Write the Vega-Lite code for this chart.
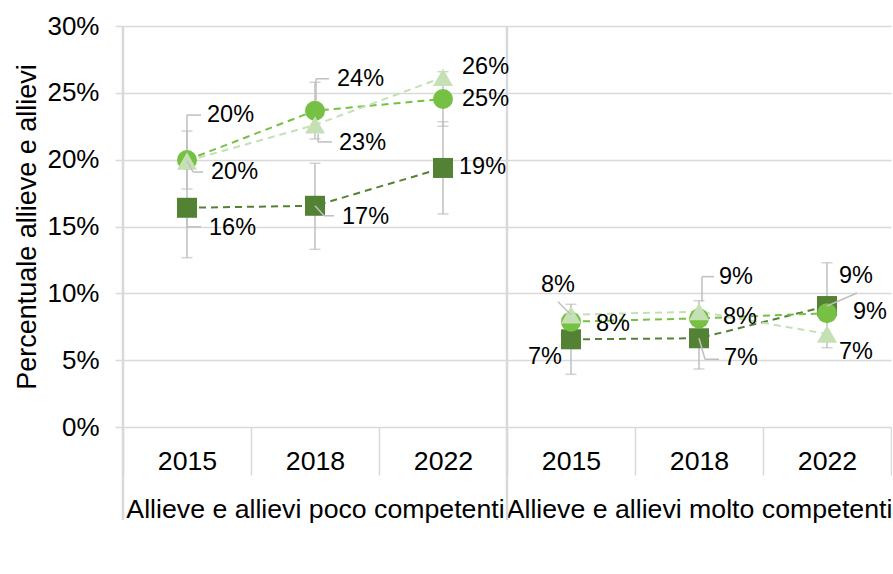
{
  "$schema": "https://vega.github.io/schema/vega-lite/v6.json",
  "width": 768,
  "height": 401,
  "padding": {"left": 13, "top": 13, "right": 0, "bottom": 0},
  "background": "white",
  "config": {"font": "Liberation Sans", "view": {"stroke": null}},
  "params": [
    {"name": "K", "value": ["Ticinop2015", "Ticinop2018", "Ticinop2022", "Ticinom2015", "Ticinom2018", "Ticinom2022", "Svizzerap2015", "Svizzerap2018", "Svizzerap2022", "Svizzeram2015", "Svizzeram2018", "Svizzeram2022", "Media OCSEp2015", "Media OCSEp2018", "Media OCSEp2022", "Media OCSEm2015", "Media OCSEm2018", "Media OCSEm2022"]}
  ],
  "data": {
    "values": [
      {"series": "Ticino", "g": "p", "key": "p2015", "v": 0.164, "lo": 0.1267, "hi": 0.2015, "label": "16%"},
      {"series": "Ticino", "g": "p", "key": "p2018", "v": 0.1655, "lo": 0.1329, "hi": 0.1973, "label": "17%"},
      {"series": "Ticino", "g": "p", "key": "p2022", "v": 0.1938, "lo": 0.1594, "hi": 0.2284, "label": "19%"},
      {"series": "Ticino", "g": "m", "key": "m2015", "v": 0.0656, "lo": 0.0394, "hi": 0.0918, "label": "7%"},
      {"series": "Ticino", "g": "m", "key": "m2018", "v": 0.0664, "lo": 0.0434, "hi": 0.0945, "label": "7%"},
      {"series": "Ticino", "g": "m", "key": "m2022", "v": 0.0905, "lo": 0.0593, "hi": 0.1229, "label": "9%"},
      {"series": "Svizzera", "g": "p", "key": "p2015", "v": 0.1997, "lo": 0.178, "hi": 0.2214, "label": "20%"},
      {"series": "Svizzera", "g": "p", "key": "p2018", "v": 0.2366, "lo": 0.2155, "hi": 0.2579, "label": "24%"},
      {"series": "Svizzera", "g": "p", "key": "p2022", "v": 0.2454, "lo": 0.225, "hi": 0.2658, "label": "25%"},
      {"series": "Svizzera", "g": "m", "key": "m2015", "v": 0.0788, "lo": null, "hi": null, "label": "8%"},
      {"series": "Svizzera", "g": "m", "key": "m2018", "v": 0.0813, "lo": null, "hi": null, "label": "8%"},
      {"series": "Svizzera", "g": "m", "key": "m2022", "v": 0.0851, "lo": null, "hi": null, "label": "9%"},
      {"series": "Media OCSE", "g": "p", "key": "p2015", "v": 0.199, "lo": null, "hi": null, "label": "20%"},
      {"series": "Media OCSE", "g": "p", "key": "p2018", "v": 0.226, "lo": null, "hi": null, "label": "23%"},
      {"series": "Media OCSE", "g": "p", "key": "p2022", "v": 0.2616, "lo": null, "hi": null, "label": "26%"},
      {"series": "Media OCSE", "g": "m", "key": "m2015", "v": 0.084, "lo": null, "hi": null, "label": "8%"},
      {"series": "Media OCSE", "g": "m", "key": "m2018", "v": 0.0863, "lo": null, "hi": null, "label": "9%"},
      {"series": "Media OCSE", "g": "m", "key": "m2022", "v": 0.0696, "lo": null, "hi": null, "label": "7%"}
    ]
  },
  "encoding": {
    "x": {"field": "key", "type": "nominal",
      "scale": {"domain": ["p2015", "p2018", "p2022", "m2015", "m2018", "m2022"], "paddingInner": 0, "paddingOuter": 0},
      "axis": {"title": null, "labelExpr": "!isValid(datum.value) ? '' : datum.value == 'p2018' ? ['2018', 'Allieve e allievi poco competenti'] : datum.value == 'm2018' ? ['2018', 'Allieve e allievi molto competenti'] : substring(datum.value, 1)", "labelLimit": 500, "tickBand": "extent", "tickSize": 48, "tickColor": "#d9d9d9", "tickWidth": 1.5, "domain": false, "grid": false, "labelFontSize": 26.7, "labelColor": "#000", "labelPadding": -27, "labelBaseline": "top", "labelLineHeight": 48, "labelAngle": 0}},
    "y": {"field": "v", "type": "quantitative",
      "scale": {"domain": [0, 0.3], "nice": false},
      "axis": {"title": "Percentuale allieve e allievi", "labelExpr": "isValid(datum.value) ? round(datum.value * 100) + '%' : ''", "values": [0, 0.05, 0.1, 0.15, 0.2, 0.25, 0.3], "labelFlush": false, "labelOverlap": false, "tickSize": 8, "tickColor": "#d9d9d9", "tickWidth": 1.5, "domain": false, "grid": true, "gridColor": "#d9d9d9", "gridWidth": 1.5, "labelFontSize": 26, "labelColor": "#000", "labelPadding": 16, "titleFontSize": 27, "titleFontWeight": "normal", "titleColor": "#000", "titlePadding": 5}}
  },
  "layer": [
    {
      "transform": [{"filter": "datum.series == 'Ticino' && (datum.key == 'p2015' || datum.key == 'm2015')"}],
      "mark": {"type": "rule", "color": "#d9d9d9", "strokeWidth": 2.5, "y2Offset": 93},
      "encoding": {
        "x": {"field": "key", "type": "nominal", "bandPosition": 0},
        "y": {"datum": 0.3},
        "y2": {"datum": 0}
      }
    },
    {
      "mark": {"type": "line", "strokeDash": [7, 5], "strokeWidth": 2},
      "encoding": {
        "color": {"field": "series", "type": "nominal", "legend": null,
          "scale": {"domain": ["Ticino", "Svizzera", "Media OCSE"], "range": ["#548235", "#76C043", "#C5E0B4"]}},
        "detail": {"field": "g", "type": "nominal"}
      }
    },
    {
      "transform": [{"filter": "isValid(datum.lo)"}],
      "mark": {"type": "rule", "color": "#bfbfbf", "strokeWidth": 1.5},
      "encoding": {
        "y": {"field": "lo", "type": "quantitative"},
        "y2": {"field": "hi"}
      }
    },
    {
      "transform": [{"filter": "isValid(datum.lo)"}],
      "mark": {"type": "tick", "color": "#bfbfbf", "thickness": 1.5, "size": 11},
      "encoding": {"y": {"field": "lo", "type": "quantitative"}}
    },
    {
      "transform": [{"filter": "isValid(datum.hi)"}],
      "mark": {"type": "tick", "color": "#bfbfbf", "thickness": 1.5, "size": 11},
      "encoding": {"y": {"field": "hi", "type": "quantitative"}}
    },
    {
      "mark": {"type": "point", "filled": true, "opacity": 1, "size": 400, "strokeWidth": 0},
      "encoding": {
        "color": {"field": "series", "type": "nominal",
          "legend": {"title": null, "orient": "none", "legendX": 11.5, "legendY": 520, "direction": "horizontal", "columns": 3, "gridAlign": "all", "columnPadding": 57, "symbolSize": 576, "labelFontSize": 26, "labelColor": "#000", "labelOffset": 18, "padding": 0, "symbolStrokeWidth": 0, "symbolOpacity": 1}},
        "shape": {"field": "series", "type": "nominal",
          "scale": {"domain": ["Ticino", "Svizzera", "Media OCSE"], "range": ["square", "circle", "triangle-up"]},
          "legend": {"title": null, "orient": "none", "legendX": 11.5, "legendY": 520, "direction": "horizontal", "columns": 3, "gridAlign": "all", "columnPadding": 57, "symbolSize": 576, "labelFontSize": 26, "labelColor": "#000", "labelOffset": 18, "padding": 0, "symbolStrokeWidth": 0, "symbolOpacity": 1}}
      }
    },
    {
      "transform": [{"filter": "indexof(['Ticinop2015','Ticinop2018','Ticinom2018','Ticinom2022','Svizzerap2015','Svizzerap2018','Media OCSEp2015','Media OCSEp2018','Media OCSEm2015','Media OCSEm2018'], datum.series + datum.key) >= 0"}],
      "mark": {"type": "rule", "color": "#bfbfbf", "strokeWidth": 1.5,
        "xOffset": {"expr": "[0,0,0,0,0,0, 0,1,0,0,0,0, 0,3,0,-13,3,0][indexof(K, datum.series + datum.key)]"},
        "yOffset": {"expr": "[10,0,0,0,0,0, -10,-10,0,0,0,0, 0,9,0,-13,-10,0][indexof(K, datum.series + datum.key)]"},
        "x2Offset": {"expr": "[0,9,0,0,6,30, 0,1,0,0,0,0, 6,3,0,0,3,0][indexof(K, datum.series + datum.key)]"},
        "y2Offset": {"expr": "[19,10,0,0,21,-13, -45,-32,0,0,0,0, 11,17,0,0,-35,0][indexof(K, datum.series + datum.key)]"}
      },
      "encoding": {
        "x2": {"field": "key"},
        "y2": {"field": "v"}
      }
    },
    {
      "transform": [{"filter": "indexof(['Ticinop2015','Ticinop2018','Ticinom2018','Svizzerap2015','Svizzerap2018','Media OCSEp2015','Media OCSEp2018','Media OCSEm2018'], datum.series + datum.key) >= 0"}],
      "mark": {"type": "rule", "color": "#bfbfbf", "strokeWidth": 1.5,
        "xOffset": {"expr": "[0,9,0,0,6,0, 0,1,0,0,0,0, 6,3,0,0,3,0][indexof(K, datum.series + datum.key)]"},
        "yOffset": {"expr": "[19,10,0,0,21,0, -45,-32,0,0,0,0, 11,17,0,0,-35,0][indexof(K, datum.series + datum.key)]"},
        "x2Offset": {"expr": "[14,19,0,0,20,0, 14,14,0,0,0,0, 16,17,0,0,15,0][indexof(K, datum.series + datum.key)]"},
        "y2Offset": {"expr": "[19,10,0,0,21,0, -45,-32,0,0,0,0, 11,17,0,0,-35,0][indexof(K, datum.series + datum.key)]"}
      },
      "encoding": {
        "x2": {"field": "key"},
        "y2": {"field": "v"}
      }
    },
    {
      "mark": {"type": "text", "align": "left", "baseline": "middle", "fontSize": 23.5, "color": "#000",
        "dx": {"expr": "[22,27,16,-43,25,12, 20,22,19,25,24,26, 24,24,19,-30,20,12][indexof(K, datum.series + datum.key)]"},
        "dy": {"expr": "[20,11,-1,18,20,-30, -45,-32,0,2,-1,-1, 11,18,-10,-30,-35,18][indexof(K, datum.series + datum.key)]"}
      },
      "encoding": {
        "text": {"field": "label", "type": "nominal"}
      }
    }
  ]
}
